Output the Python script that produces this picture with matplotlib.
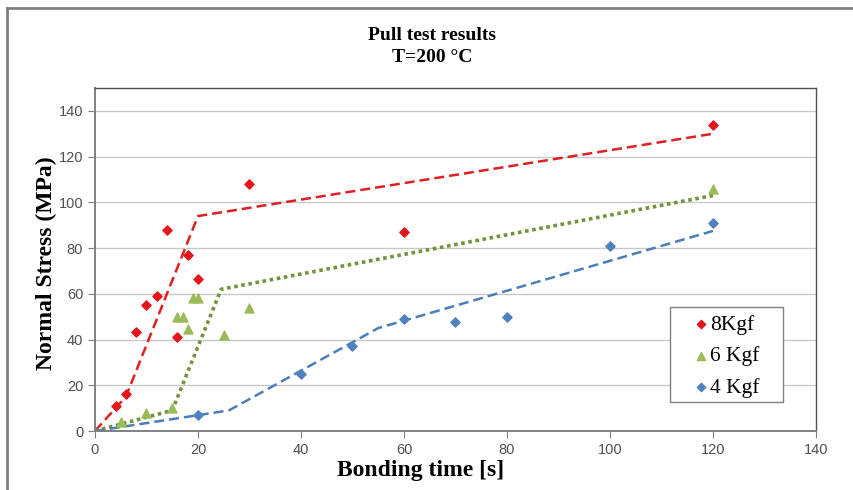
import matplotlib.pyplot as plt
from matplotlib.lines import Line2D
from matplotlib.patches import Rectangle

# Pull test data at T=200 C: bonding time [s] vs normal stress [MPa]
t_8kgf = [4, 6, 8, 10, 12, 14, 16, 18, 20, 30, 60, 120]
s_8kgf = [11, 16, 43.5, 55, 59, 88, 41, 77, 66.5, 108, 87, 134]

t_6kgf = [5, 10, 15, 16, 17, 18, 19, 20, 25, 30, 120]
s_6kgf = [4, 8, 10, 50, 50, 44.7, 58, 58, 42, 54, 106]

t_4kgf = [20, 40, 50, 60, 70, 80, 100, 120]
s_4kgf = [7, 25, 37, 49, 47.5, 50, 81, 91]

# Piecewise trend lines
trend_t_8 = [0, 6, 20, 120]
trend_s_8 = [0, 15, 94, 130]
trend_t_6 = [0, 15, 24.5, 120]
trend_s_6 = [0, 9, 62, 103]
trend_t_4 = [0, 26, 55, 120]
trend_s_4 = [0, 9, 45, 87.5]

red = '#e8141b'
green = '#9bbb59'
green_line = '#76923c'
blue = '#4f81bd'

serif = ['Liberation Serif', 'DejaVu Serif']
sans = ['Liberation Sans', 'DejaVu Sans']

fig = plt.figure(figsize=(8.54, 4.9), dpi=100)
ax = fig.add_axes([0.1112, 0.1204, 0.8443, 0.7000])

# Trend lines
ax.plot(trend_t_8, trend_s_8, color='#e02020', lw=1.8, ls=(0, (4, 2)), zorder=2)
ax.plot(trend_t_6, trend_s_6, color=green_line, lw=2.6, ls=(0, (1, 1)), zorder=2)
ax.plot(trend_t_4, trend_s_4, color='#4a7ebb', lw=1.8, ls=(0, (4, 2)), zorder=2)

# Measured points
ax.scatter(t_8kgf, s_8kgf, marker='D', s=22, color=red, label='8Kgf', zorder=3)
ax.scatter(t_6kgf, s_6kgf, marker='^', s=42, color=green, label='6 Kgf', zorder=3)
ax.scatter(t_4kgf, s_4kgf, marker='D', s=22, color=blue, label='4 Kgf', zorder=3)

ax.set_xlim(0, 140)
ax.set_ylim(0, 150)
ax.set_xticks(range(0, 141, 20))
ax.set_yticks(range(0, 141, 20))
ax.yaxis.grid(True, color='#c8c8c8', lw=1.0)
ax.set_axisbelow(True)

for side in ['left', 'bottom']:
    ax.spines[side].set_color('#808080')
    ax.spines[side].set_linewidth(1.4)
for side in ['top', 'right']:
    ax.spines[side].set_color('#505050')
    ax.spines[side].set_linewidth(1.0)

ax.tick_params(direction='out', length=5, color='#808080', labelcolor='#505050',
               labelsize=10.5)
for lab in ax.get_xticklabels() + ax.get_yticklabels():
    lab.set_family(sans)

ax.set_xlabel('Bonding time [s]', family=serif, fontsize=17, fontweight='bold',
              labelpad=3)
ax.xaxis.set_label_coords(0.451, -0.085)
ax.set_ylabel('Normal Stress (MPa)', family=serif, fontsize=17, fontweight='bold')
ax.yaxis.set_label_coords(-0.052, 0.49)

fig.text(0.506, 0.905, 'Pull test results\nT=200 °C', ha='center', va='center',
         family=serif, fontsize=14, fontweight='bold', linespacing=1.45)

# Legend box drawn separately so the padding can be wider on the right
box_x0, box_y0, box_x1, box_y1 = 0.7975, 0.0845, 0.954, 0.3615
ax.add_patch(Rectangle((box_x0, box_y0), box_x1 - box_x0, box_y1 - box_y0,
                       transform=ax.transAxes, facecolor='white',
                       edgecolor='#808080', lw=1.0, zorder=4))
leg = ax.legend(loc='upper left', bbox_to_anchor=(box_x0, box_y1), borderaxespad=0,
                frameon=False, prop={'family': serif, 'size': 15.5},
                handlelength=2.19, handletextpad=-0.67, borderpad=0.35,
                labelspacing=0.54, markerscale=0.9)
leg.set_zorder(5)

# Outer chart border (top and left edges)
fig.add_artist(Line2D([7 / 854, 1.0], [1 - 8 / 490, 1 - 8 / 490],
                      transform=fig.transFigure, color='#808080', lw=2))
fig.add_artist(Line2D([7 / 854, 7 / 854], [0, 1 - 8 / 490],
                      transform=fig.transFigure, color='#808080', lw=2))

fig.savefig('out.png', dpi=100)
